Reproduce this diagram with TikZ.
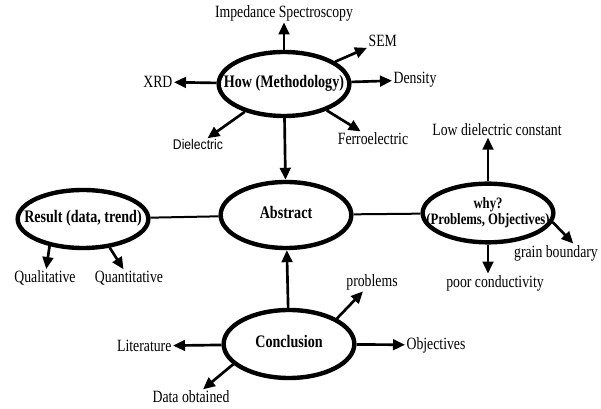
\documentclass[tikz,border=0pt]{standalone}
\usepackage{fontspec}
\setmainfont{Liberation Serif}[FakeStretch=0.8]
\newfontfamily\sansfnt{Liberation Sans}[FakeStretch=0.87]
\usetikzlibrary{shapes.geometric,arrows.meta}
\newcommand{\ovaltext}[1]{\makebox[0pt]{\begin{tabular}{@{}c@{}}#1\end{tabular}}}
\tikzset{
  oval/.style={ellipse, draw, line width=3.3pt, inner sep=0pt, minimum width=98pt,
    font=\fontsize{13.2}{14}\selectfont\bfseries},
  lbl/.style={inner sep=1pt, font=\fontsize{12.9}{14}\selectfont},
  arr/.style={-{Triangle[length=9pt,width=8pt]}, line width=2pt},
  link/.style={line width=1.5pt}
}
\begin{document}
\begin{tikzpicture}[x=0.75pt, y=-0.75pt]
  \useasboundingbox (0,0) rectangle (601,409);

  % Ovals
  \node[oval, minimum height=48pt] (how) at (284,84) {\ovaltext{How (Methodology)}};
  \node[oval, minimum height=49.5pt] (abstract) at (286,215) {\ovaltext{Abstract}};
  \node[oval, minimum height=43.5pt] (result) at (83,219) {\ovaltext{Result (data, trend)}};
  \node[oval, minimum height=44pt, font=\fontsize{11.9}{12}\selectfont\bfseries] (why) at (488,213)
    {\ovaltext{why?\\(Problems, Objectives)}};
  \node[oval, minimum height=51pt] (concl) at (289,344) {\ovaltext{Conclusion}};

  % Labels
  \node[lbl] (imp) at (284,13) {Impedance Spectroscopy};
  \node[lbl, anchor=west] (sem) at (367,41) {SEM};
  \node[lbl, anchor=west] (dens) at (392,80) {Density};
  \node[lbl, anchor=east] (xrd) at (174,82) {XRD};
  \node[lbl, font=\fontsize{10.5}{12}\sansfnt] (diel) at (198,145) {Dielectric};
  \node[lbl] (ferro) at (373,139) {Ferroelectric};
  \node[lbl] (qual) at (45,278) {Qualitative};
  \node[lbl] (quant) at (129,278) {Quantitative};
  \node[lbl] (low) at (497,130) {Low dielectric constant};
  \node[lbl] (grain) at (556,253) {grain boundary};
  \node[lbl] (poor) at (495,283) {poor conductivity};
  \node[lbl] (prob) at (372,282) {problems};
  \node[lbl, anchor=west] (obj) at (405,345) {Objectives};
  \node[lbl, anchor=east] (lit) at (173,346) {Literature};
  \node[lbl] (data) at (191,397) {Data obtained};

  % Methodology
  \draw[arr] (how) -- (imp);
  \draw[arr] (how) -- (sem);
  \draw[arr] (how) -- (dens);
  \draw[arr] (how) -- (xrd);
  \draw[arr] (how) -- (diel);
  \draw[arr] (how) -- (ferro);
  \draw[arr] (how) -- (abstract);

  % Result and why
  \draw[link] (result) -- (abstract);
  \draw[link] (abstract) -- (why);
  \draw[arr] (result.219) -- (qual);
  \draw[arr] (result.313) -- (quant);
  \draw[arr] (why.north) -- (why.north |- low.south);
  \draw[arr] (why.-8) -- ([xshift=13pt]grain.north);
  \draw[arr] (why.south) -- (why.south |- poor.north);

  % Conclusion
  \draw[arr] (concl) -- (abstract);
  \draw[arr] (concl.28) -- (prob);
  \draw[arr] (concl) -- (obj);
  \draw[arr] (concl) -- (lit);
  \draw[arr] (concl.200) -- ([xshift=9pt]data.north);
\end{tikzpicture}
\end{document}
